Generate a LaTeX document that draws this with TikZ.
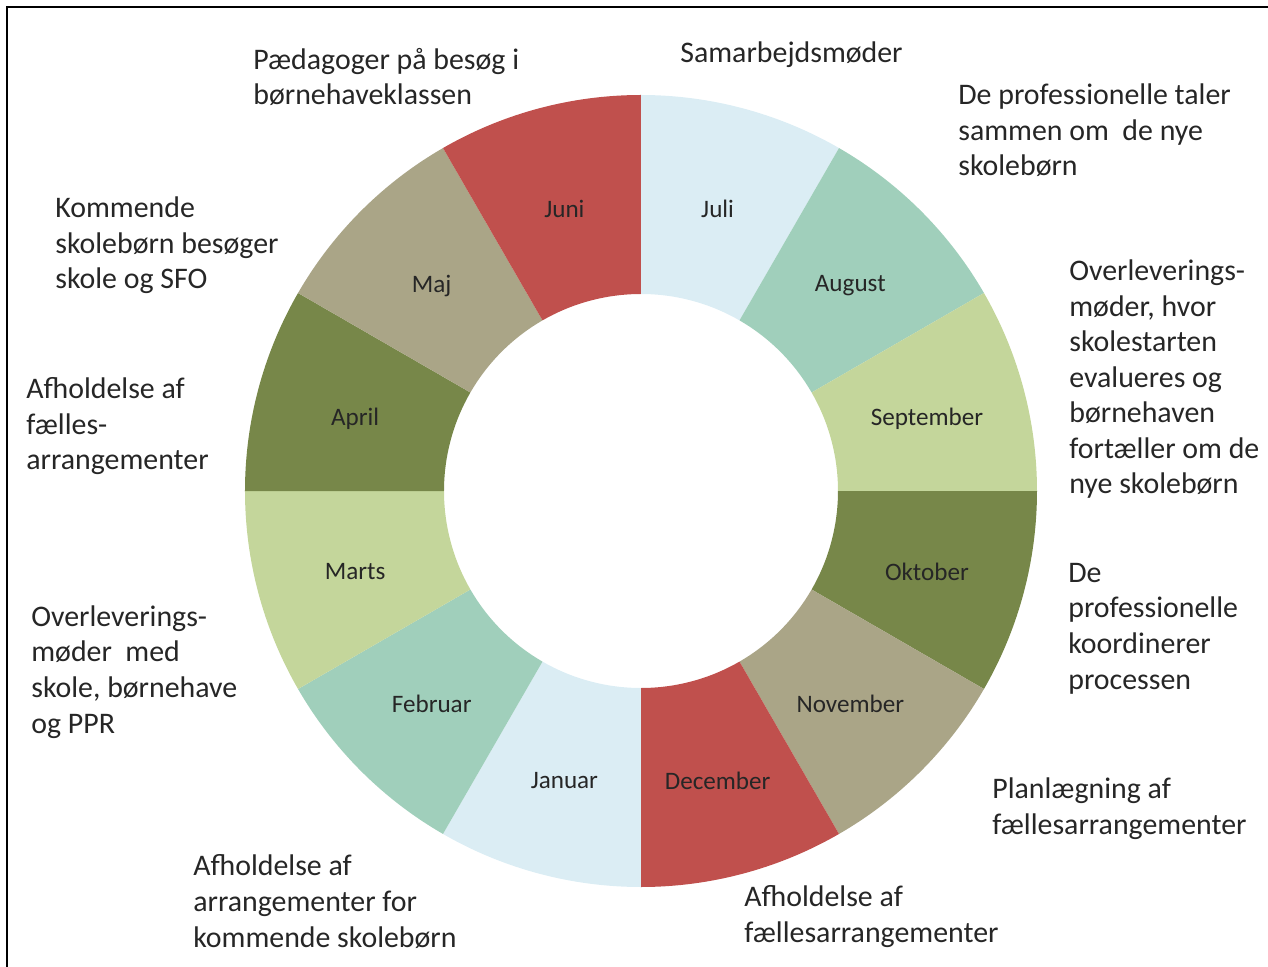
\documentclass[tikz,border=0pt]{standalone}
\usepackage{fontspec}
\setmainfont{Carlito}

% segment colours
\definecolor{lblue}{RGB}{219,237,244}
\definecolor{mint}{RGB}{160,207,187}
\definecolor{lgreen}{RGB}{196,214,155}
\definecolor{olive}{RGB}{119,135,73}
\definecolor{tan}{RGB}{170,165,135}
\definecolor{brick}{RGB}{192,80,77}

\tikzset{
    month/.style={font=\fontsize{14.3}{17}\selectfont, text=black!85, inner sep=0pt, yshift=-0.08cm},
    % anchor is the baseline of the last line
    note/.style={anchor=base west, align=left, inner sep=0pt, text=black!85,
        font=\fontsize{17}{20.24}\selectfont},
}

\begin{document}
\begin{tikzpicture}[x=0.02cm, y=0.02cm]
    \useasboundingbox (-641,-476) rectangle (627,491);

    % frame (only top and left edge are inside the picture)
    \draw[line width=1.1pt] (-634,-480) -- (-634,484) -- (630,484);

    % ring segments, clockwise from the top
    \foreach \a/\c/\m/\n [evaluate=\a as \b using \a-30, evaluate=\a as \t using \a-15]
        in {90/lblue/Juli/jul, 60/mint/August/aug, 30/lgreen/September/sep,
            0/olive/Oktober/okt, -30/tan/November/nov, -60/brick/December/dec,
            -90/lblue/Januar/jan, -120/mint/Februar/feb, -150/lgreen/Marts/mar,
            180/olive/April/apr, 150/tan/Maj/maj, 120/brick/Juni/jun}
    {
        \fill[\c] (\a:197) arc[start angle=\a, end angle=\b, radius=197]
            -- (\b:396) arc[start angle=\b, end angle=\a, radius=396] -- cycle;
        \node[month] (\n) at (\t:296) {\m};
    }

    % activities
    \node[note] (ped) at (-388,386) {Pædagoger på besøg i\\børnehaveklassen};
    \node[note] (samarb) at (39,428) {Samarbejdsmøder};
    \node[note] (taler) at (317,315) {De professionelle taler\\sammen om\ \ de nye\\skolebørn};
    \node[note] (overlev) at (428,-3) {Overleverings-\\møder, hvor\\skolestarten\\evalueres og\\børnehaven\\fortæller om de\\nye skolebørn};
    \node[note] (koord) at (427,-198) {De\\professionelle\\koordinerer\\processen};
    \node[note] (plan) at (351,-343) {Planlægning af\\fællesarrangementer};
    \node[note] (afhfael) at (103,-451) {Afholdelse af\\fællesarrangementer};
    \node[note] (afharr) at (-448,-456) {Afholdelse af\\arrangementer for\\kommende skolebørn};
    \node[note] (ppr) at (-610,-242) {Overleverings-\\møder\ \ med\\skole, børnehave\\og PPR};
    \node[note] (afhfael2) at (-615,21) {Afholdelse af\\fælles-\\arrangementer};
    \node[note] (besoeg) at (-586,202) {Kommende\\skolebørn besøger\\skole og SFO};

\end{tikzpicture}
\end{document}
